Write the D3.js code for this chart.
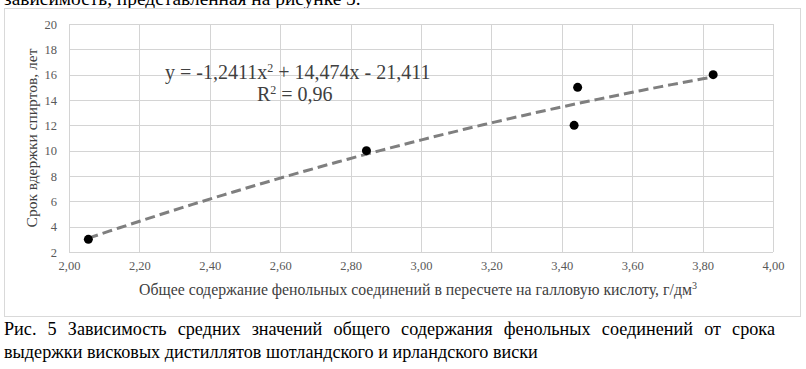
<!DOCTYPE html>
<html>
<head>
<meta charset="utf-8">
<script src="https://cdn.jsdelivr.net/npm/d3@7"></script>
<style>
  body { margin: 0; background: #fff; }
  svg { display: block; }
  svg text { font-family: "Liberation Serif", "Times New Roman", serif; }
</style>
</head>
<body>
<div id="chart"></div>
<script>
// Data
const phenolics = [2.055, 2.845, 3.435, 3.445, 3.83];
const ageYears = [3, 10, 12, 15, 16];
const xTicks = [2.0, 2.2, 2.4, 2.6, 2.8, 3.0, 3.2, 3.4, 3.6, 3.8, 4.0];
const yTicks = [2, 4, 6, 8, 10, 12, 14, 16, 18, 20];
const trendCoef = [-1.2411, 14.474, -21.411];
const trendRange = [2.055, 3.83];

const W = 806, H = 369;
var margin = {top: 24, right: 33, bottom: 117, left: 69};
var width = W - margin.left - margin.right;
var height = H - margin.top - margin.bottom;

const svg = d3.select('#chart').append('svg')
    .attr('width', W)
    .attr('height', H);

// cropped text line from the page above
svg.append('text')
    .attr('x', 4).attr('y', 5)
    .style('font-size', '19.4px')
    .attr('fill', '#000')
    .text('зависимость, представленная на рисунке 5.');

// chart frame
svg.append('rect')
    .attr('x', 4.5).attr('y', 8.5)
    .attr('width', 796).attr('height', 308)
    .attr('fill', '#fff')
    .attr('stroke', '#d9d9d9');

const plotArea = svg.append('g')
    .attr('transform', `translate(${margin.left}, ${margin.top})`);

const x = d3.scaleLinear().domain([2, 4]).range([0, width]);
const y = d3.scaleLinear().domain([2, 20]).range([height, 0]);

const fmt = d => d3.format('.2f')(d).replace('.', ',');

// gridlines
plotArea.append('g')
  .selectAll('line')
  .data(yTicks)
  .join('line')
    .attr('x1', 0).attr('x2', width)
    .attr('y1', d => Math.round(y(d)) + 0.5).attr('y2', d => Math.round(y(d)) + 0.5)
    .attr('stroke', '#d4d4d4');
plotArea.append('g')
  .selectAll('line')
  .data(xTicks)
  .join('line')
    .attr('y1', 0).attr('y2', height)
    .attr('x1', d => Math.round(x(d)) + 0.5).attr('x2', d => Math.round(x(d)) + 0.5)
    .attr('stroke', '#d4d4d4');

// axes (labels only)
const yAxisGroup = plotArea.append('g')
    .call(d3.axisLeft(y).tickValues(yTicks).tickSize(0).tickPadding(12));
const xAxisGroup = plotArea.append('g')
    .attr('transform', `translate(0, ${height})`)
    .call(d3.axisBottom(x).tickValues(xTicks).tickFormat(fmt).tickSize(0).tickPadding(9));

yAxisGroup.select('.domain').remove();
xAxisGroup.select('.domain').remove();
[yAxisGroup, xAxisGroup].forEach(g => g.attr('font-family', null).attr('font-size', null)
  .selectAll('text')
    .attr('fill', '#595959')
    .style('font-size', '12.5px'));

// axis titles
svg.append('text')
    .attr('transform', `translate(37, 138) rotate(-90)`)
    .attr('text-anchor', 'middle')
    .attr('fill', '#404040')
    .style('font-size', '15.5px')
    .text('Срок вдержки спиртов, лет');

const xt = svg.append('text')
    .attr('x', 418)
    .attr('y', 295)
    .attr('text-anchor', 'middle')
    .attr('fill', '#404040')
    .style('font-size', '15.8px');
xt.append('tspan').text('Общее содержание фенольных соединений в пересчете на галловую кислоту, г/дм');
xt.append('tspan').attr('dy', -6).style('font-size', '10px').text('3');

// trendline
const trend = v => trendCoef[0] * v * v + trendCoef[1] * v + trendCoef[2];
const trendPts = d3.range(0, 61).map(i => {
  const v = trendRange[0] + (trendRange[1] - trendRange[0]) * i / 60;
  return [v, trend(v)];
});
plotArea.append('path')
    .datum(trendPts)
    .attr('fill', 'none')
    .attr('stroke', '#7f7f7f')
    .attr('stroke-width', 3)
    .attr('stroke-dasharray', '10,5')
    .attr('d', d3.line().x(d => x(d[0])).y(d => y(d[1])));

// points
plotArea.append('g')
  .selectAll('circle')
  .data(phenolics)
  .join('circle')
    .attr('cx', d => x(d))
    .attr('cy', (d, i) => y(ageYears[i]))
    .attr('r', 4.5)
    .attr('fill', '#000');

// equation
svg.append('text')
    .attr('x', 165).attr('y', 79)
    .attr('fill', '#404040')
    .style('font-size', '20px')
    .html('y = -1,2411x<tspan dy="-7" font-size="12px">2</tspan><tspan dy="7"> + 14,474x - 21,411</tspan>');
svg.append('text')
    .attr('x', 257).attr('y', 101)
    .attr('fill', '#404040')
    .style('font-size', '20px')
    .html('R<tspan dy="-7" font-size="12px">2</tspan><tspan dy="7"> = 0,96</tspan>');

// caption (first line is justified to the page width)
const caption = [
  'Рис. 5 Зависимость средних значений общего содержания фенольных соединений от срока',
  'выдержки висковых дистиллятов шотландского и ирландского виски'
];
const capText = svg.append('g')
  .selectAll('text')
  .data(caption)
  .join('text')
    .attr('x', 4)
    .attr('y', (d, i) => 335 + i * 23)
    .attr('fill', '#000')
    .style('font-size', '18.2px')
    .text(d => d);
const first = capText.filter((d, i) => i === 0);
const natural = first.node().getComputedTextLength();
const gaps = caption[0].split(' ').length - 1;
first.style('word-spacing', `${(771 - natural) / gaps}px`);
</script>
</body>
</html>
